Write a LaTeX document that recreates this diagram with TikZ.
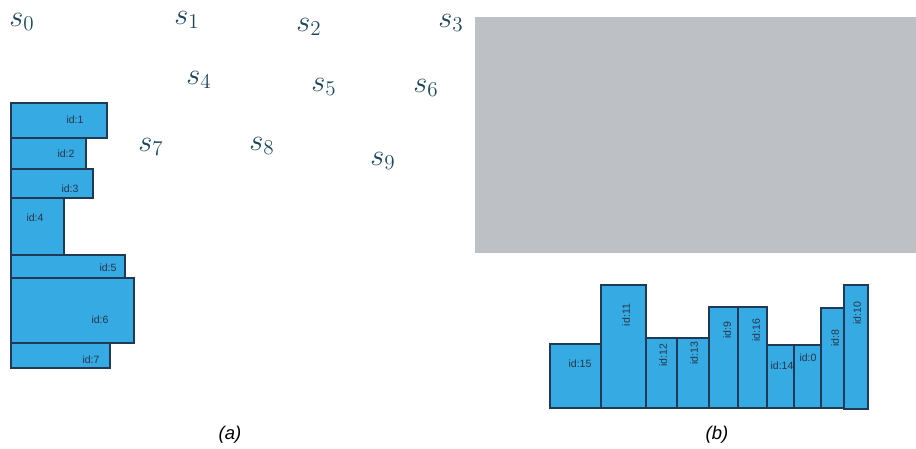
\documentclass[tikz,border=0pt]{standalone}
\usepackage{fontspec}
\usepackage{xcolor}
\setmainfont{Liberation Sans}
\usetikzlibrary{positioning}
\definecolor{boxblue}{RGB}{54, 170, 226}
\definecolor{boxedge}{RGB}{32, 58, 86}
\definecolor{labelink}{RGB}{40, 52, 72}
\definecolor{stateteal}{RGB}{30, 72, 90}
\definecolor{bingray}{RGB}{189, 193, 197}
\tikzstyle{item} = [draw=boxedge, fill=boxblue, line width=0.6pt]
\tikzstyle{idtext} = [text=labelink, font=\fontsize{6}{7}\selectfont, inner sep=0pt]
\tikzstyle{vidtext} = [idtext, rotate=90]
\tikzstyle{state} = [text=stateteal, font=\fontsize{17}{20}\selectfont, inner sep=0pt]
\tikzstyle{caption} = [font=\fontsize{10.5}{12}\selectfont\itshape, inner sep=0pt]

\begin{document}
\begin{tikzpicture}[x=0.02cm, y=-0.02cm]
      \useasboundingbox (0,0) rectangle (916,449);

      % states
      \node[state] (s0) at (22,22) {$s_0$};
      \node[state] (s1) at (187,20) {$s_1$};
      \node[state] (s2) at (309,27) {$s_2$};
      \node[state] (s3) at (451,23) {$s_3$};
      \node[state] (s4) at (199,80) {$s_4$};
      \node[state] (s5) at (324,87) {$s_5$};
      \node[state] (s6) at (426,88) {$s_6$};
      \node[state] (s7) at (151,147) {$s_7$};
      \node[state] (s8) at (262,146) {$s_8$};
      \node[state] (s9) at (383,161) {$s_9$};

      % left stack
      \draw[item] (11,103) rectangle (107,138);
      \draw[item] (11,138) rectangle (86,169);
      \draw[item] (11,169) rectangle (93,198);
      \draw[item] (11,198) rectangle (64,255);
      \draw[item] (11,255) rectangle (125,278);
      \draw[item] (11,278) rectangle (134,343);
      \draw[item] (11,343) rectangle (110,368);
      \node[idtext] (id1) at (75,120) {id:1};
      \node[idtext] (id2) at (66,154) {id:2};
      \node[idtext] (id3) at (70,189) {id:3};
      \node[idtext] (id4) at (35,218) {id:4};
      \node[idtext] (id5) at (108,268) {id:5};
      \node[idtext] (id6) at (100,320) {id:6};
      \node[idtext] (id7) at (91,360) {id:7};

      % bin
      \fill[bingray] (475,17) rectangle (916,253);

      % packed row
      \draw[item] (550,408) rectangle (601,344);
      \draw[item] (601,408) rectangle (646,285);
      \draw[item] (646,408) rectangle (677,338);
      \draw[item] (677,408) rectangle (709,338);
      \draw[item] (709,408) rectangle (738,307);
      \draw[item] (738,408) rectangle (767,307);
      \draw[item] (767,408) rectangle (794,345);
      \draw[item] (794,408) rectangle (821,345);
      \draw[item] (821,408) rectangle (844,308);
      \draw[item] (844,409) rectangle (868,285);
      \node[idtext] (id15) at (580,364) {id:15};
      \node[vidtext] (id11) at (626,315) {id:11};
      \node[vidtext] (id12) at (663,355) {id:12};
      \node[vidtext] (id13) at (694,353) {id:13};
      \node[vidtext] (id9) at (727,330) {id:9};
      \node[vidtext] (id16) at (756,330) {id:16};
      \node[idtext] (id14) at (782,366) {id:14};
      \node[idtext] (id0) at (808,358) {id:0};
      \node[vidtext] (id8) at (835,338) {id:8};
      \node[vidtext] (id10) at (857,313) {id:10};

      % captions
      \node[caption] (capa) at (230,435) {(a)};
      \node[caption] (capb) at (717,435) {(b)};
    \end{tikzpicture}
\end{document}
